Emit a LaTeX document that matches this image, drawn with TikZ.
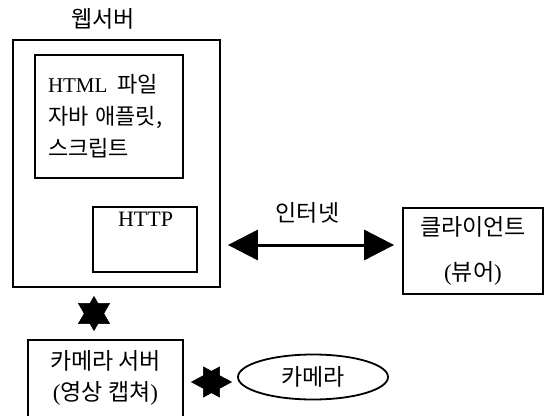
\documentclass[tikz,border=0pt]{standalone}
\usepackage{fontspec}
\setmainfont{Liberation Serif}
\newfontfamily\kr{Noto Sans CJK KR}
\usetikzlibrary{arrows.meta,shapes.geometric}
\begin{document}
\begin{tikzpicture}[x=1pt,y=-1pt,
  box/.style={draw, line width=1.8pt, inner sep=0pt},
  lbl/.style={font=\kr\fontsize{23}{31}\selectfont, align=center},
  biarrow/.style={line width=3pt, {Triangle[length=30pt,width=30pt]}-{Triangle[length=30pt,width=30pt]}},
  vstar/.style={line width=0.5pt, {Triangle[length=28pt,width=32pt]}-{Triangle[length=28pt,width=32pt]}},
  hstar/.style={line width=0.5pt, {Triangle[length=29pt,width=31pt]}-{Triangle[length=29pt,width=31pt]}}]
\useasboundingbox (0,0) rectangle (546,415);
\clip (0,0) rectangle (546,415);
% web server
\node[box, minimum width=207pt, minimum height=247pt] (web) at (116.5,163.5) {};
\node[lbl] (webtitle) at (103,19) {웹서버};
\node[box, text width=122pt, align=left, inner xsep=13pt, minimum height=123pt,
      font=\fontsize{21}{32}\selectfont] (html) at (109,116.5)
      {HTML\hspace{10pt}{\kr\fontsize{22}{32}\selectfont 파일}\\{\kr\fontsize{22}{32}\selectfont 자바 애플릿,}\\{\kr\fontsize{22}{32}\selectfont 스크립트}};
\node[box, minimum width=104pt, minimum height=65pt] (http) at (145,239.5) {};
\node[font=\fontsize{22}{23}\selectfont] (httptext) at (145.5,219) {HTTP};
% client
\node[box, lbl, minimum width=140pt, minimum height=86pt, font=\kr\fontsize{23}{45}\selectfont] (client) at (473,251)
      {클라이언트\\{\rmfamily(}뷰어{\rmfamily)}};
% camera server
\node[box, minimum width=155pt, minimum height=84pt] (camsrv) at (105.5,382) {};
\node[lbl] (camsrvtext) at (105.5,377.5) {카메라 서버\\{\rmfamily(}영상 캡쳐{\rmfamily)}};
% camera
\node[draw, ellipse, line width=1.8pt, minimum width=150pt, minimum height=45pt, inner sep=0pt, lbl] (cam) at (313,377) {카메라};
% connectors
\coordinate (netrow) at (0,245);
\draw[biarrow, shorten <=7pt, shorten >=8pt] (web.east |- netrow) --
   node[lbl, midway, yshift=32pt, xshift=-4pt] (nettext) {인터넷} (client.west |- netrow);
\coordinate (starcol) at (94,0);
\draw[vstar, shorten <=8pt, shorten >=8pt] (starcol |- web.south) -- (starcol |- camsrv.north);
\coordinate (starrow) at (0,382);
\draw[hstar, shorten <=7pt, shorten >=5pt] (camsrv.east |- starrow) -- (cam.west |- starrow);
\end{tikzpicture}
\end{document}
